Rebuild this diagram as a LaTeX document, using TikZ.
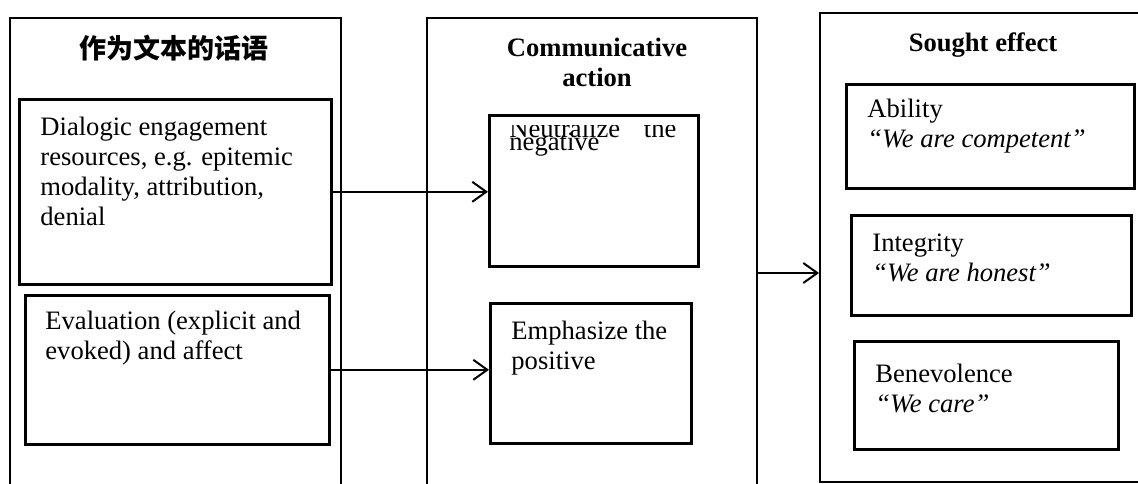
\documentclass[tikz,border=0pt]{standalone}
\usepackage{fontspec}
\setmainfont{Liberation Serif}
\newfontfamily\cjkfont{Noto Sans CJK SC}
\usetikzlibrary{arrows.meta,calc}
\tikzset{
    outerbox/.style={draw, line width=0.9pt, inner sep=0pt, anchor=north west},
    innerbox/.style={draw, line width=1.3pt, inner sep=0pt, anchor=north west},
    boxsize/.style 2 args={minimum width=#1*0.5pt, minimum height=#2*0.5pt},
    bodytext/.style={inner sep=0pt, anchor=north west, align=left,
        font=\fontsize{13.3}{15}\selectfont},
    headtext/.style={inner sep=0pt, align=center,
        font=\bfseries\fontsize{13.3}{15}\selectfont},
    link/.style={-{Straight Barb[length=7pt,width=10pt]}, line width=1pt},
}

\begin{document}
\begin{tikzpicture}[
    x=0.5pt,
    y=-0.5pt,
  ]

  \useasboundingbox (0,0) rectangle (1138,483);
  \clip (0,0) rectangle (1138,483);

  % -----------
  % Left column
  % -----------
  \node[outerbox, boxsize={331}{500}] (textbox) at (9,17) {};
  \node[inner sep=0pt, font=\cjkfont\bfseries\fontsize{13.5}{15}\selectfont] (texttitle) at (174,48) {作为文本的话语};

  \node[innerbox, boxsize={312}{185}] (dialog) at (18,98) {};
  \node[bodytext] (dialogtxt) at (40,117)
    {Dialogic engagement\\resources, e.g. epitemic\\modality, attribution,\\denial};

  \node[innerbox, boxsize={304}{149}] (evaluation) at (24,294) {};
  \node[bodytext] (evaluationtxt) at (45,311)
    {Evaluation (explicit and\\evoked) and affect};

  % -------------
  % Middle column
  % -------------
  \node[outerbox, boxsize={330}{500}] (actionbox) at (426,17) {};
  \node[headtext] (actiontitle) at (597,62) {Communicative\\action};

  \node[innerbox, boxsize={209}{151}] (neutral) at (488,114) {};
  \begin{scope}
    \clip (488,125) rectangle (697,265);
    \node[bodytext] (neutraltxt) at (509,119)
      {\hbox to 83.5pt{Neutralize\hfill the}\\[-8.5pt]negative};
  \end{scope}

  \node[innerbox, boxsize={201}{140}] (emphasize) at (489,302) {};
  \node[bodytext] (emphasizetxt) at (511,321)
    {Emphasize the\\positive};

  % ------------
  % Right column
  % ------------
  \node[outerbox, boxsize={400}{469}] (effectbox) at (819,12) {};
  \node[headtext] (effecttitle) at (983,45) {Sought effect};

  \node[innerbox, boxsize={288}{104}] (ability) at (845,83) {};
  \node[bodytext] (abilitytxt) at (867,99)
    {Ability\\\textit{“We are competent”}};

  \node[innerbox, boxsize={280}{100}] (integrity) at (850,214) {};
  \node[bodytext] (integritytxt) at (872,233)
    {Integrity\\\textit{“We are honest”}};

  \node[innerbox, boxsize={264}{108}] (benevolence) at (853,340) {};
  \node[bodytext] (benevolencetxt) at (875,364)
    {Benevolence\\\textit{“We care”}};

  % Arrows between the columns
  \coordinate (effecty) at (0,273);
  \draw[link] (dialog.east) -- (dialog.east -| neutral.west);
  \draw[link] (evaluation.east) -- (evaluation.east -| emphasize.west);
  \draw[link] (actionbox.east |- effecty) -- (effectbox.west |- effecty);

\end{tikzpicture}
\end{document}
